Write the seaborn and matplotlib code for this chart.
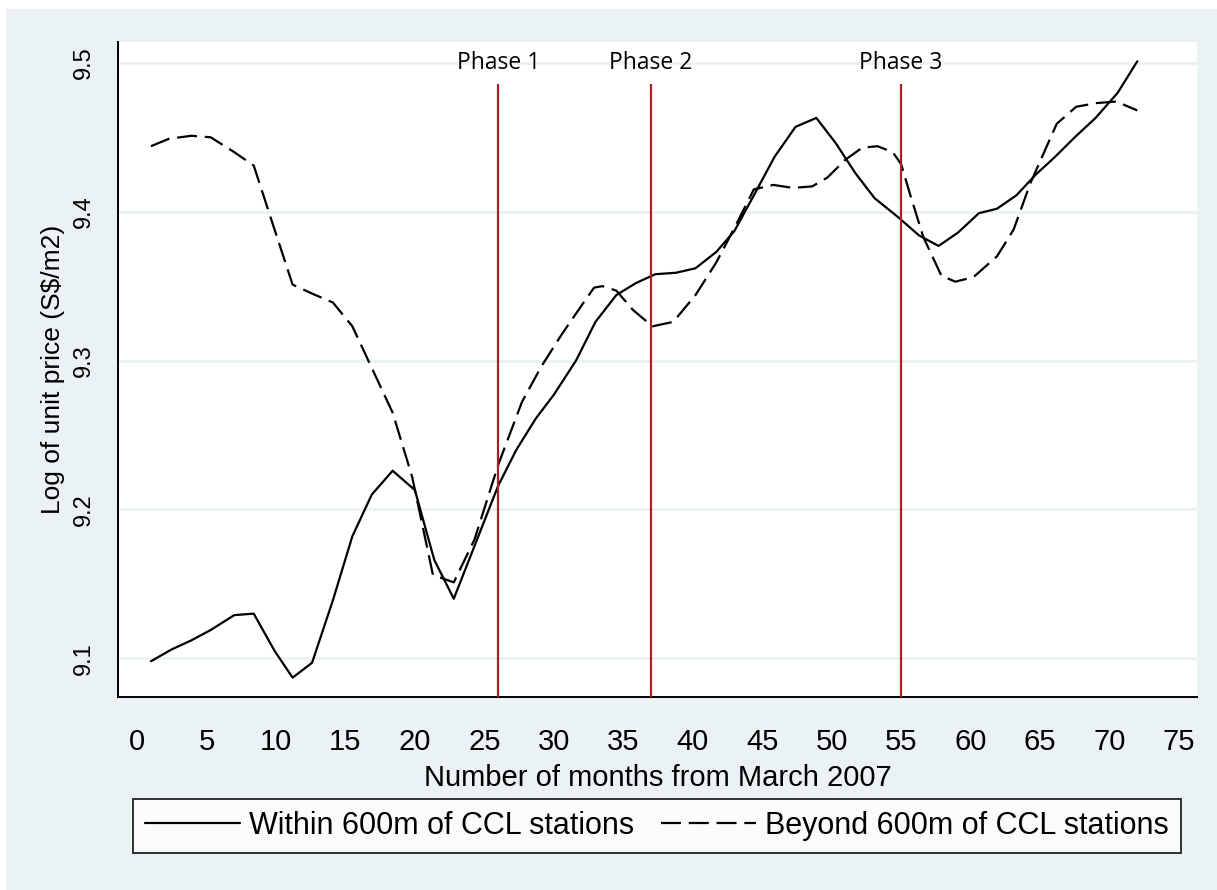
import numpy as np
import pandas as pd
import matplotlib
matplotlib.use("Agg")
import matplotlib.pyplot as plt
from matplotlib.patches import Rectangle
import seaborn as sns

# ── data ──────────────────────────────────────────────────────
within_months = [1.0, 2.5, 3.9, 5.3, 7.0, 8.4, 9.9, 11.2, 12.6, 14.1, 15.5, 16.9,
                 18.4, 20.0, 21.4, 22.8, 24.4, 26.0, 27.3, 28.7, 30.0, 31.6, 33.0,
                 34.5, 35.9, 37.3, 38.8, 40.2, 41.7, 43.0, 44.4, 45.9, 47.4, 48.9,
                 50.3, 51.7, 53.1, 54.7, 56.3, 57.7, 59.1, 60.6, 61.9, 63.3, 64.7,
                 66.1, 67.5, 69.0, 70.6, 72.0]
within_price = [9.098, 9.106, 9.112, 9.119, 9.129, 9.130, 9.105, 9.087, 9.097, 9.139,
                9.182, 9.210, 9.226, 9.213, 9.166, 9.140, 9.178, 9.216, 9.240, 9.261,
                9.277, 9.300, 9.326, 9.344, 9.352, 9.358, 9.359, 9.362, 9.373, 9.387,
                9.411, 9.437, 9.457, 9.463, 9.446, 9.426, 9.409, 9.397, 9.384, 9.377,
                9.386, 9.399, 9.402, 9.411, 9.425, 9.437, 9.450, 9.463, 9.480, 9.501]

beyond_months = [1.0, 2.3, 3.9, 5.3, 7.0, 8.4, 9.9, 11.2, 12.6, 14.1, 15.5, 16.9,
                 18.4, 19.8, 21.3, 22.8, 24.3, 26.0, 27.7, 29.1, 30.6, 32.0, 32.9,
                 33.5, 34.5, 35.7, 37.1, 38.6, 40.2, 41.7, 43.0, 44.4, 45.8, 47.2,
                 48.6, 49.7, 51.0, 52.2, 53.3, 54.4, 55.0, 55.7, 56.6, 57.9, 58.9,
                 60.2, 61.9, 63.1, 64.3, 66.2, 67.6, 69.1, 70.5, 72.0]
beyond_price = [9.444, 9.449, 9.451, 9.450, 9.440, 9.431, 9.388, 9.351, 9.345, 9.339,
                9.323, 9.295, 9.265, 9.222, 9.156, 9.151, 9.180, 9.230, 9.272, 9.296,
                9.318, 9.337, 9.349, 9.350, 9.347, 9.334, 9.323, 9.326, 9.344, 9.366,
                9.389, 9.415, 9.418, 9.416, 9.417, 9.423, 9.435, 9.443, 9.444, 9.440,
                9.432, 9.410, 9.383, 9.357, 9.353, 9.356, 9.370, 9.388, 9.419, 9.459,
                9.4705, 9.473, 9.474, 9.468]

phase_months = [26, 37, 55]
phase_labels = ["Phase 1", "Phase 2", "Phase 3"]

x_ticks = list(range(0, 80, 5))
y_ticks = [9.1, 9.2, 9.3, 9.4, 9.5]

within_label = "Within 600m of CCL stations"
beyond_label = "Beyond 600m of CCL stations"

# ── style ─────────────────────────────────────────────────────
BG = "#eaf2f3"
RED = "#b01c22"
sns.set_style("white")
plt.rcParams["font.family"] = ["Liberation Sans", "DejaVu Sans"]
plt.rcParams.update({"text.color": "black", "axes.labelcolor": "black",
                     "xtick.color": "black", "ytick.color": "black"})

df_in = pd.DataFrame({"month": within_months, "price": within_price})
df_out = pd.DataFrame({"month": beyond_months, "price": beyond_price})

fig = plt.figure(figsize=(12.17, 8.90), dpi=100, facecolor="white")
fig.patches.append(Rectangle((6 / 1217, 0), 1, 1 - 9 / 890, transform=fig.transFigure,
                             facecolor=BG, edgecolor="none", zorder=-10))
ax = fig.add_axes([118 / 1217, 1 - 697 / 890, (1197 - 118) / 1217, (697 - 42) / 890])
ax.set_facecolor("white")

# gridlines
for yv in y_ticks:
    ax.axhline(yv, color=BG, lw=2, zorder=0)

sns.lineplot(data=df_in, x="month", y="price", ax=ax, color="black", lw=1.6,
             label=within_label, zorder=3)
sns.lineplot(data=df_out, x="month", y="price", ax=ax, color="black", lw=1.6,
             dashes=False, label=beyond_label, zorder=3)
ax.lines[-1].set_dashes((9, 3.5))

ax.set_xlim(-1.37, 76.3)
ax.set_ylim(9.074, 9.514)

# phase markers
for m, lab in zip(phase_months, phase_labels):
    ax.vlines(m, 9.074, 9.486, color=RED, lw=1.6, zorder=4)
    ax.text(m, 9.5, lab, ha="center", va="center", fontsize=16.5,
            family=["Open Sans", "DejaVu Sans"], zorder=5)

ax.set_xticks(x_ticks)
ax.set_yticks(y_ticks)
ax.set_xticklabels([str(t) for t in x_ticks], fontsize=21)
ax.set_yticklabels([f"{t:.1f}" for t in y_ticks], fontsize=17, rotation=90, va="center")
ax.tick_params(axis="both", direction="out", length=7, width=1.3)
ax.tick_params(axis="x", pad=15)
ax.tick_params(axis="y", pad=10)
ax.set_xlabel("Number of months from March 2007", fontsize=21, labelpad=6)
ax.set_ylabel("Log of unit price (S$/m2)", fontsize=19, labelpad=5)

for side in ["top", "right"]:
    ax.spines[side].set_visible(False)
for side in ["left", "bottom"]:
    ax.spines[side].set_color("black")
    ax.spines[side].set_linewidth(1.4)

handles, labels = ax.get_legend_handles_labels()
ax.get_legend().remove()
leg = fig.legend(handles, labels, loc="center", ncol=2,
                 bbox_to_anchor=(657 / 1217, 1 - 826 / 890), fontsize=22,
                 frameon=True, fancybox=False, edgecolor="black", facecolor="white",
                 handlelength=3.1, handletextpad=0.3, columnspacing=0.9,
                 borderpad=0.4, borderaxespad=0)
leg.get_frame().set_linewidth(1.4)

fig.savefig("out.png", dpi=100, facecolor=fig.get_facecolor())
